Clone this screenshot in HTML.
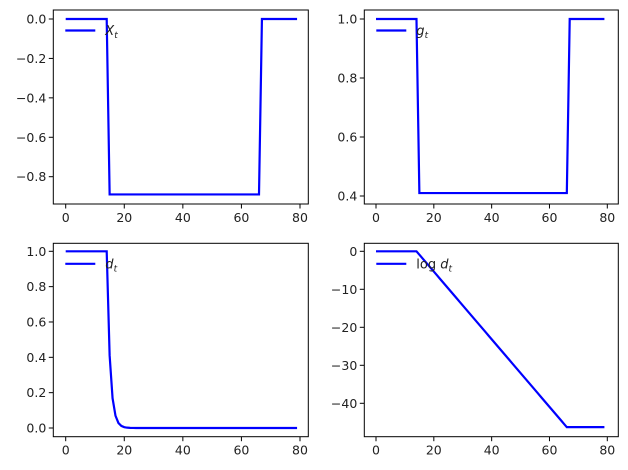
<!DOCTYPE html>
<html><head><meta charset="utf-8"><style>
body{margin:0;background:#fff}
svg{display:block;font-family:"DejaVu Sans","Liberation Sans",sans-serif;font-size:12.5px;fill:#222}
</style></head><body>
<svg id="s" width="628" height="470" xmlns="http://www.w3.org/2000/svg"></svg>
<script>
const s=document.getElementById('s');let h='';
function ax(L,R,T,B,x0,x80,yv0,yp0,yv1,yp1,ticks,fn,lab){
 const X=t=>x0+(x80-x0)*t/80, Y=v=>yp0+(yp1-yp0)*(v-yv0)/(yv1-yv0);
 h+=`<rect x="${L}" y="${T}" width="${R-L}" height="${B-T}" fill="#fff" stroke="#000" stroke-width="1"/>`;
 for(const t of [0,20,40,60,80]){const x=X(t);h+=`<line x1="${x}" x2="${x}" y1="${B}" y2="${B+4.5}" stroke="#000" stroke-width="1"/><text x="${x}" y="${B+18}" text-anchor="middle">${t}</text>`;}
 for(const [v,l] of ticks){const y=Y(v);h+=`<line x1="${L-4.5}" x2="${L}" y1="${y}" y2="${y}" stroke="#000" stroke-width="1"/><text x="${L-7}" y="${y+4.5}" text-anchor="end">${l}</text>`;}
 let p='';for(let t=0;t<80;t++){p+=(t?'L':'M')+X(t).toFixed(2)+','+Y(fn(t)).toFixed(2);}
 h+=`<path d="${p}" fill="none" stroke="#0000ff" stroke-width="2.2"/>`;
 h+=`<line x1="${L+12}" x2="${L+42}" y1="${T+20.5}" y2="${T+20.5}" stroke="#0000ff" stroke-width="2.2"/><text x="${L+52}" y="${T+25}" font-size="13">${lab}</text>`;
}
const a=0.89;
const xt=t=>(t<=14||t>=67)?0:-a;
const gt=t=>(t<=14||t>=67)?1:0.41;
const dt=t=>t<=14?1:Math.exp(-a*(t-14));
const lt=t=>t<=14?0:(t>=66?-a*52:-a*(t-14));
const sub=v=>`<tspan font-style="italic">${v}</tspan><tspan font-style="italic" font-size="9" dy="3">t</tspan>`;
ax(53.3,308.3,10,204,65.7,300,0,19,-0.8,176.7,[0,-0.2,-0.4,-0.6,-0.8].map(v=>[v,v==0?'0.0':'\u2212'+(-v).toFixed(1)]),xt,sub('X'));
ax(364.3,618.3,10,204,376,607.3,1,19,0.4,196,[1,0.8,0.6,0.4].map(v=>[v,v.toFixed(1)]),gt,sub('g'));
ax(53.3,308.3,243.3,436.7,65.7,300,1,251.3,0,428,[1,0.8,0.6,0.4,0.2,0].map(v=>[v,v.toFixed(1)]),dt,sub('d'));
ax(364.3,618.3,243.3,436.7,376,607.3,0,251.3,-40,403.3,[0,-10,-20,-30,-40].map(v=>[v,v==0?'0':'\u2212'+(-v)]),lt,'log '+sub('d'));
s.innerHTML=h;
</script>
</body></html>
